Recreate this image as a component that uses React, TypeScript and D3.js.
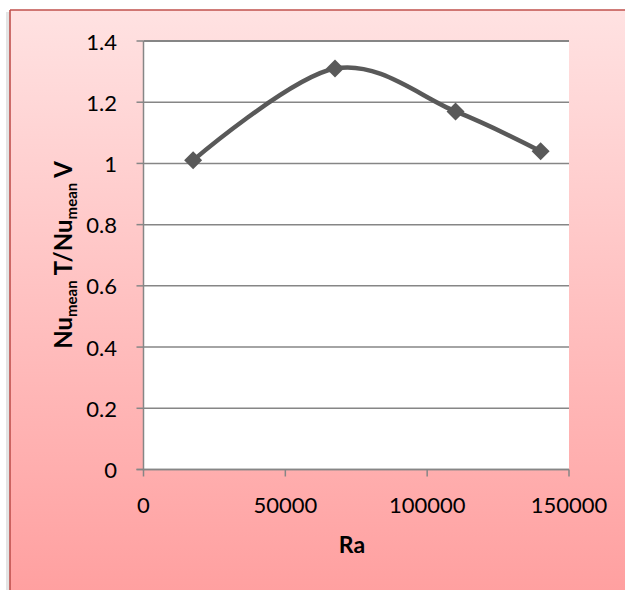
import React, { useEffect } from "react";
import * as d3 from "d3";

// Rayleigh numbers and the ratio of mean Nusselt numbers (T over V)
const raValues: number[] = [17500, 67500, 110000, 140000];
const nuRatio: number[] = [1.01, 1.31, 1.17, 1.04];

const xTicks: number[] = [0, 50000, 100000, 150000];
const yTicks: number[] = [0, 0.2, 0.4, 0.6, 0.8, 1, 1.2, 1.4];

const W = 625;
const H = 590;
const plot = { left: 143.5, right: 569, top: 41, bottom: 469.5 };

export default function App() {
  useEffect(() => {
    document.body.style.margin = "0";
    document.body.style.overflow = "hidden";
  }, []);

  const x = d3.scaleLinear().domain([0, 150000]).range([plot.left, plot.right]);
  const y = d3.scaleLinear().domain([0, 1.4]).range([plot.bottom, plot.top]);

  const pts: [number, number][] = raValues.map((r, i) => [x(r), y(nuRatio[i])]);
  const line = d3.line<[number, number]>().curve(d3.curveCatmullRom.alpha(0));
  const pathD = line(pts) || "";

  const axisColor = "#868686";
  const tickFont = "Lato, 'Open Sans', sans-serif";
  const m = 9; // half-diagonal of the diamond markers

  return (
    <svg
      width={W}
      height={H}
      style={{ position: "absolute", left: 0, top: 0, display: "block" }}
      xmlns="http://www.w3.org/2000/svg"
    >
      <defs>
        <linearGradient id="bg" x1="0" y1="10" x2="0" y2="600" gradientUnits="userSpaceOnUse">
          <stop offset="0" stopColor="#ffe2e2" />
          <stop offset="1" stopColor="#ff9f9f" />
        </linearGradient>
      </defs>
      <rect x={0} y={0} width={W} height={H} fill="#ffffff" />
      {/* soft shadow left of the chart frame */}
      <rect x={6} y={12} width={4} height={H} fill="#e4e4e4" />
      {/* chart background, running past the right and bottom edges */}
      <rect x={10} y={10} width={W - 10} height={H - 10} fill="url(#bg)" />
      {/* frame: only its top and left edges fall inside the view */}
      <line x1={10} x2={W} y1={10} y2={10} stroke="#c0504d" strokeWidth={1.6} />
      <line x1={10} x2={10} y1={10} y2={H} stroke="#c0504d" strokeWidth={1.6} />

      {/* plot area */}
      <rect x={plot.left} y={plot.top} width={plot.right - plot.left} height={plot.bottom - plot.top} fill="#ffffff" />

      {/* horizontal gridlines */}
      {yTicks.map((t) => (
        <line
          key={"g" + t}
          x1={plot.left}
          x2={plot.right}
          y1={y(t)}
          y2={y(t)}
          stroke={axisColor}
          strokeWidth={t === 1.4 ? 2 : 1.5}
        />
      ))}

      {/* y axis */}
      <line x1={plot.left} x2={plot.left} y1={plot.top} y2={plot.bottom + 0.75} stroke={axisColor} strokeWidth={1.5} />
      {yTicks.map((t) => (
        <g key={"y" + t}>
          <line x1={plot.left - 7} x2={plot.left} y1={y(t)} y2={y(t)} stroke={axisColor} strokeWidth={1.5} />
          <text
            x={117}
            y={y(t)}
            textAnchor="end"
            dominantBaseline="central"
            fontFamily={tickFont}
            fontSize={22}
            fill="#000"
          >
            {d3.format("~g")(t)}
          </text>
        </g>
      ))}

      {/* x axis */}
      <line x1={plot.left - 7} x2={plot.right} y1={plot.bottom} y2={plot.bottom} stroke={axisColor} strokeWidth={1.5} />
      {xTicks.map((t) => (
        <g key={"x" + t}>
          <line x1={x(t)} x2={x(t)} y1={plot.bottom} y2={plot.bottom + 7} stroke={axisColor} strokeWidth={1.5} />
          <text x={x(t)} y={513} textAnchor="middle" fontFamily={tickFont} fontSize={22} fill="#000">
            {String(t)}
          </text>
        </g>
      ))}

      {/* series */}
      <path d={pathD} fill="none" stroke="#595959" strokeWidth={4.5} strokeLinejoin="round" strokeLinecap="round" />
      {pts.map(([px, py], i) => (
        <path
          key={"m" + i}
          d={`M${px},${py - m}L${px + m},${py}L${px},${py + m}L${px - m},${py}Z`}
          fill="#595959"
        />
      ))}

      {/* axis titles */}
      <text x={352} y={553} textAnchor="middle" fontFamily={tickFont} fontWeight="bold" fontSize={23} fill="#000">
        Ra
      </text>
      <text
        transform={`translate(72,255) rotate(-90)`}
        textAnchor="middle"
        fontFamily={tickFont}
        fontWeight="bold"
        fontSize={24}
        fill="#000"
      >
        <tspan>Nu</tspan>
        <tspan fontSize={15} dy={5}>mean</tspan>
        <tspan dy={-5}> T/Nu</tspan>
        <tspan fontSize={15} dy={5}>mean</tspan>
        <tspan dy={-5}> V</tspan>
      </text>
    </svg>
  );
}
